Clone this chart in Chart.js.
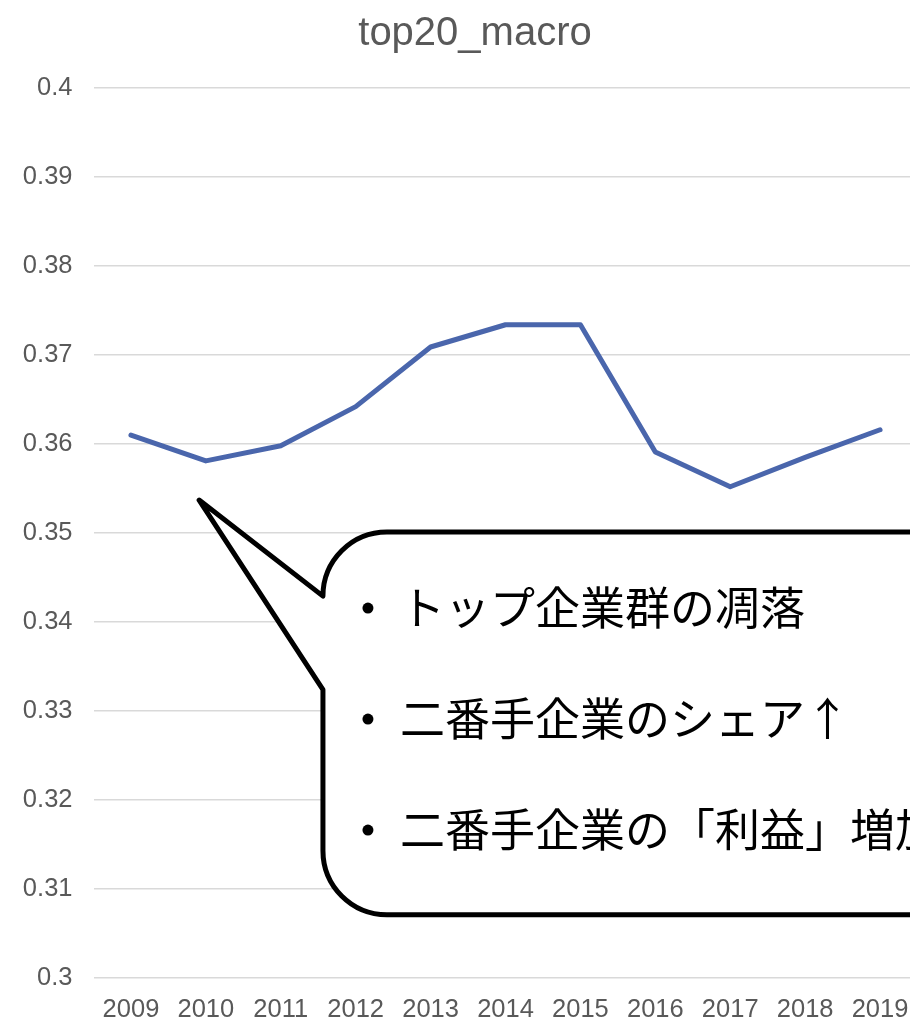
<!DOCTYPE html>
<html>
<head>
<meta charset="utf-8">
<script src="https://cdn.jsdelivr.net/npm/chart.js@4.4.0/dist/chart.umd.min.js"></script>
<style>
  html, body { margin: 0; padding: 0; overflow: hidden; background: #ffffff; }
  #wrap { width: 950px; height: 1020px; }
</style>
</head>
<body>
<div id="wrap"><canvas id="grafico" width="950" height="1020"></canvas></div>
<script>
// dados:
const years = ["2009", "2010", "2011", "2012", "2013", "2014", "2015", "2016", "2017", "2018", "2019"];
const top20Macro = [0.3610, 0.3581, 0.3598, 0.3642, 0.3709, 0.3734, 0.3734, 0.3591, 0.3552, 0.3585, 0.3616];
const yTickValues = [0.3, 0.31, 0.32, 0.33, 0.34, 0.35, 0.36, 0.37, 0.38, 0.39, 0.4];
const calloutLines = ["トップ企業群の凋落", "二番手企業のシェア↑", "二番手企業の「利益」増加"];

// posição do balão (em unidades dos eixos)
const balao = {
  tip: { x: 0.91, y: 0.3537 },
  left: 2.563,
  right: 12,
  top: 0.3501,
  bottom: 0.3071,
  tailLow: 0.3324,
  radius: 64,
};

const fonteEixo = '"Liberation Sans", Arial, sans-serif';

// plugin do balão:
const balaoPlugin = {
  id: "balao",
  afterDraw(chart) {
    const { ctx, scales } = chart;
    const px = (v) => scales.x.getPixelForValue(v);
    const py = (v) => scales.y.getPixelForValue(v);

    const tipX = px(balao.tip.x), tipY = py(balao.tip.y);
    const left = px(balao.left), right = px(balao.right);
    const top = py(balao.top), bottom = py(balao.bottom);
    const r = balao.radius;
    const tailLow = py(balao.tailLow);

    ctx.save();
    ctx.beginPath();
    ctx.moveTo(tipX, tipY);
    ctx.lineTo(left, top + r);
    ctx.arcTo(left, top, left + r, top, r);
    ctx.lineTo(right, top);
    ctx.lineTo(right, bottom);
    ctx.lineTo(left + r, bottom);
    ctx.arcTo(left, bottom, left, bottom - r, r);
    ctx.lineTo(left, tailLow);
    ctx.closePath();
    ctx.fillStyle = "#ffffff";
    ctx.fill();
    ctx.lineWidth = 5;
    ctx.lineJoin = "round";
    ctx.strokeStyle = "#000000";
    ctx.stroke();

    ctx.fillStyle = "#000000";
    ctx.font = '45px "Noto Sans CJK JP", sans-serif';
    ctx.textBaseline = "middle";
    ctx.textAlign = "left";
    calloutLines.forEach((linha, i) => {
      const y = top + 76 + i * 111;
      ctx.beginPath();
      ctx.arc(left + 45, y, 5.5, 0, Math.PI * 2);
      ctx.fill();
      ctx.fillText(linha, left + 77, y);
    });
    ctx.restore();
  },
};

const config = {
  type: "line",
  data: {
    labels: years,
    datasets: [
      {
        label: "top20_macro",
        data: top20Macro,
        borderColor: "#4a66ac",
        borderWidth: 5,
        borderCapStyle: "round",
        borderJoinStyle: "round",
        pointRadius: 0,
        tension: 0,
        fill: false,
      },
    ],
  },
  options: {
    responsive: false,
    animation: false,
    devicePixelRatio: 1,
    layout: { padding: 0 },
    plugins: {
      legend: { display: false },
      tooltip: { enabled: false },
      title: {
        display: true,
        text: "top20_macro",
        color: "#595959",
        font: { size: 40, weight: "normal", family: fonteEixo },
        padding: { top: 10, bottom: 30 },
      },
    },
    scales: {
      x: {
        offset: true,
        grid: { display: false, drawTicks: false },
        border: { display: false },
        ticks: {
          color: "#595959",
          font: { size: 25.5, family: fonteEixo },
          padding: 17,
          maxRotation: 0,
          autoSkip: false,
        },
        afterFit: (scale) => { scale.height = 42; },
      },
      y: {
        min: 0.3,
        max: 0.4,
        grid: { color: "#d9d9d9", lineWidth: 1.5, drawTicks: false },
        border: { display: false },
        ticks: {
          color: "#595959",
          font: { size: 25.5, family: fonteEixo },
          padding: 21,
          callback: (value) => String(Number(value.toFixed(2))),
        },
        afterBuildTicks: (scale) => { scale.ticks = yTickValues.map((v) => ({ value: v })); },
        afterFit: (scale) => { scale.width = 93.5; },
      },
      // margem direita vazia
      margem: {
        type: "linear",
        position: "right",
        min: 0,
        max: 1,
        grid: { display: false, drawTicks: false },
        border: { display: false },
        ticks: { display: false },
        afterFit: (scale) => { scale.width = 32.5; },
      },
    },
  },
  plugins: [balaoPlugin],
};

new Chart(document.getElementById("grafico"), config);
</script>
</body>
</html>
